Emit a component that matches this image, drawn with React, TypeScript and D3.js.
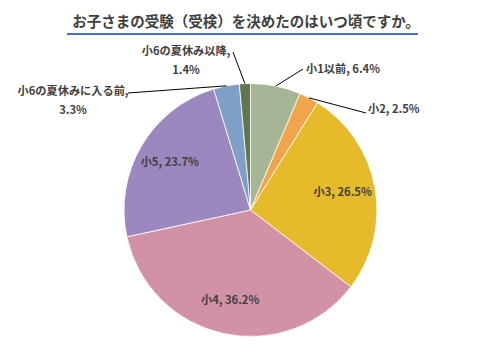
import React from "react";
import * as d3 from "d3";

const categories = ["小1以前", "小2", "小3", "小4", "小5", "小6の夏休みに入る前", "小6の夏休み以降"];
const values = [6.4, 2.5, 26.5, 36.2, 23.7, 3.3, 1.4];
const colors = ["#a6b593", "#f0a44c", "#e5bb2c", "#d292a5", "#9d87bf", "#7f9fc7", "#5f7650"];

const W = 495;
const H = 353;
const cx = 250.5;
const cy = 210;
const R = 126.5;

// outside label layout: text anchor point + line end side
const outside: Record<number, { x: number; y: number; anchor: string; lx: number; ly: number; two?: boolean }> = {
  0: { x: 306, y: 73, anchor: "start", lx: 303, ly: 69 },
  1: { x: 368, y: 113, anchor: "start", lx: 366, ly: 113 },
  5: { x: 73, y: 95, anchor: "middle", lx: 128, ly: 93, two: true },
  6: { x: 186, y: 55, anchor: "middle", lx: 233, ly: 52, two: true },
};

export default function App() {
  const pie = d3.pie<number>().sort(null).value((d) => d);
  const arcs = pie(values);
  const arc = d3.arc<d3.PieArcDatum<number>>().innerRadius(0).outerRadius(R);
  const font = "'Noto Sans CJK JP', 'Noto Sans', sans-serif";
  const txt = "#404040";
  const fs = 11.2;

  return (
    <svg width={W} height={H} style={{ position: "absolute", left: 0, top: 0 }}>
      <rect width={W} height={H} fill="#fff" />
      <text x={246} y={27} textAnchor="middle" fontFamily={font} fontSize={14.5} fontWeight="bold" fill={txt}>
        お子さまの受験（受検）を決めたのはいつ頃ですか。
      </text>
      <line x1={67} x2={418} y1={34} y2={34} stroke="#4472c4" strokeWidth={2} />
      <g transform={`translate(${cx},${cy})`}>
        {arcs.map((a, i) => (
          <path key={i} d={arc(a) || ""} fill={colors[i]} stroke="#fff" strokeWidth={0.8} />
        ))}
      </g>
      {arcs.map((a, i) => {
        const mid = (a.startAngle + a.endAngle) / 2;
        const label = `${categories[i]}, ${values[i].toFixed(1)}%`;
        const o = outside[i];
        if (!o) {
          const r = R * 0.74;
          return (
            <text key={i} x={cx + r * Math.sin(mid)} y={cy - r * Math.cos(mid) + 3} textAnchor="middle"
              fontFamily={font} fontSize={fs} fontWeight="bold" fill={txt}>
              {label}
            </text>
          );
        }
        const px = cx + R * Math.sin(mid);
        const py = cy - R * Math.cos(mid);
        return (
          <g key={i}>
            <polyline points={`${px},${py} ${o.lx},${o.ly}`} fill="none" stroke="#000" strokeWidth={1} />
            {o.two ? (
              <text x={o.x} y={o.y} textAnchor="middle" fontFamily={font} fontSize={fs} fontWeight="bold" fill={txt}>
                <tspan x={o.x}>{categories[i]},</tspan>
                <tspan x={o.x} dy={19}>{values[i].toFixed(1)}%</tspan>
              </text>
            ) : (
              <text x={o.x} y={o.y} textAnchor={o.anchor} fontFamily={font} fontSize={fs} fontWeight="bold" fill={txt}>
                {label}
              </text>
            )}
          </g>
        );
      })}
    </svg>
  );
}
